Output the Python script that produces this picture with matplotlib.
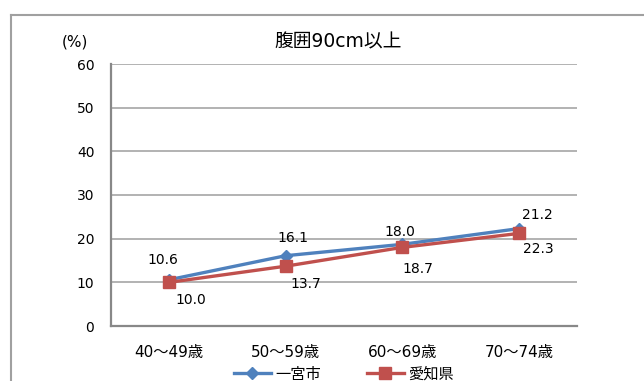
import matplotlib
matplotlib.use("Agg")
import matplotlib.pyplot as plt
from matplotlib.lines import Line2D

plt.rcParams['font.family'] = ['DejaVu Sans', 'Noto Sans CJK JP']

# Data
categories = ["40〜49歳", "50〜59歳", "60〜69歳", "70〜74歳"]
ichinomiya = [10.6, 16.1, 18.7, 22.3]
aichi = [10.0, 13.7, 18.0, 21.2]
series_names = ["一宮市", "愛知県"]
title = "腹囲90cm以上"
yticks = [0, 10, 20, 30, 40, 50, 60]

# Label offsets in pixels (dx, dy upward)
blue_offsets = [(-6, 20), (7, 18), (16, -25), (20, -20)]
red_offsets = [(22, -18), (20, -18), (-2, 15), (19, 18)]

W, H = 644, 381
fig = plt.figure(figsize=(W / 100, H / 100), dpi=100)
fig.patch.set_facecolor("white")

# outer chart frame (left and top edges)
frame_col = "#a0a0a0"
fig.add_artist(Line2D([10.5 / W, 10.5 / W], [0, 1 - 14.5 / H], transform=fig.transFigure,
                      color=frame_col, lw=1.5))
fig.add_artist(Line2D([10.5 / W, 1], [1 - 14.5 / H, 1 - 14.5 / H], transform=fig.transFigure,
                      color=frame_col, lw=1.5))

left, right, bottom, top = 111, 577, 326, 64
ax = fig.add_axes([left / W, 1 - bottom / H, (right - left) / W, (bottom - top) / H])

x = list(range(len(categories)))
blue = "#4F81BD"
red = "#C0504D"
ax.plot(x, ichinomiya, color=blue, lw=2.4, marker="D", markersize=6.5, zorder=3,
        label=series_names[0])
ax.plot(x, aichi, color=red, lw=2.4, marker="s", markersize=8, zorder=4,
        label=series_names[1])

ax.set_xlim(-0.5, len(categories) - 0.5)
ax.set_ylim(0, 60)
ax.set_yticks(yticks)
ax.set_xticks(x)
ax.set_xticklabels(categories)
ax.tick_params(axis="both", length=0, colors="black")
ax.tick_params(axis="y", pad=12, labelsize=10)
ax.tick_params(axis="x", pad=14, labelsize=11)
ax.grid(axis="y", color="#a6a6a6", lw=1.2)
ax.set_axisbelow(True)
for s in ["top", "right"]:
    ax.spines[s].set_visible(False)
for s in ["left", "bottom"]:
    ax.spines[s].set_color("#888888")
    ax.spines[s].set_linewidth(1.6)

px = 0.72
for xi, v, (dx, dy) in zip(x, ichinomiya, blue_offsets):
    ax.annotate(f"{v:.1f}", (xi, v), xytext=(dx * px, dy * px), textcoords="offset points",
                ha="center", va="center", fontsize=10)
for xi, v, (dx, dy) in zip(x, aichi, red_offsets):
    ax.annotate(f"{v:.1f}", (xi, v), xytext=(dx * px, dy * px), textcoords="offset points",
                ha="center", va="center", fontsize=10)

fig.text(338 / W, 1 - 42 / H, title, ha="center", va="center", fontsize=13.5)
fig.text(75 / W, 1 - 42 / H, "(%)", ha="center", va="center", fontsize=11)

fig.legend(loc="center", bbox_to_anchor=(344 / W, 1 - 374 / H), ncol=2, frameon=False,
           fontsize=11, handlelength=2.4, handletextpad=0.3, columnspacing=3.0,
           borderpad=0)

fig.savefig("out.png", dpi=100)
